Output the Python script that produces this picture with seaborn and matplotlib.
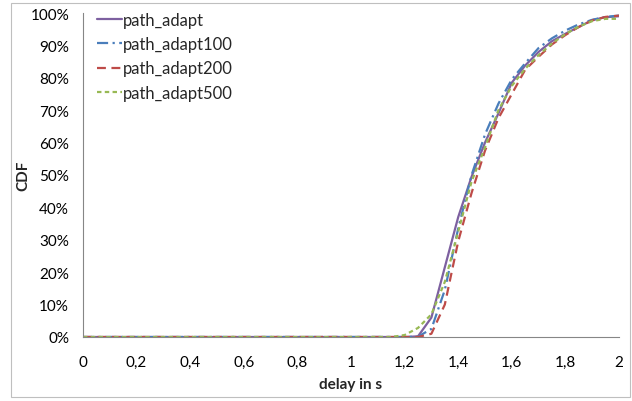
import pandas as pd
import matplotlib.pyplot as plt
import seaborn as sns
from matplotlib.patches import Rectangle
from matplotlib.ticker import FuncFormatter

# delay in s
delay = [0, 1.15, 1.2, 1.25, 1.3, 1.35, 1.4, 1.45, 1.5, 1.55, 1.6,
         1.65, 1.7, 1.75, 1.8, 1.85, 1.9, 1.95, 2.0]

# CDF values in %
path_adapt = [0, 0, 0, 0.2, 6, 21.5, 37, 49.5, 60, 69, 78.5,
              83.8, 88, 91.3, 93.6, 95.7, 97.8, 98.7, 99]
path_adapt100 = [0, 0, 0, 0.1, 2.5, 14.5, 33.5, 50, 62.5, 72, 79.5,
                 84.5, 89.2, 92.2, 94.6, 96.5, 97.9, 98.8, 99.2]
path_adapt200 = [0, 0, 0, 0, 1, 10, 29.5, 44.5, 57.5, 67.5, 75,
                 82.5, 86.5, 90.3, 93.2, 95.7, 97.7, 98.8, 99.2]
path_adapt500 = [0, 0, 0.6, 2.8, 7, 17, 32.5, 48, 58.5, 70, 77.5,
                 82.8, 87, 90.6, 93.5, 95.8, 97.5, 98.2, 98.2]

series = {
    "path_adapt": path_adapt,
    "path_adapt100": path_adapt100,
    "path_adapt200": path_adapt200,
    "path_adapt500": path_adapt500,
}

rows = []
for name, vals in series.items():
    for d, v in zip(delay, vals):
        rows.append({"delay": d, "cdf": v, "series": name})
df = pd.DataFrame(rows)

sns.set_style("white")
plt.rcParams["font.family"] = ["Lato", "DejaVu Sans"]

colors = {
    "path_adapt": "#7D60A0",
    "path_adapt100": "#4A7EBB",
    "path_adapt200": "#BE4B48",
    "path_adapt500": "#98B954",
}
dashes = {
    "path_adapt": "",
    "path_adapt100": (5, 2, 1, 2),
    "path_adapt200": (4, 2.5),
    "path_adapt500": (2, 1.5),
}

fig = plt.figure(figsize=(6.32, 4.02), dpi=100)
ax = fig.add_axes([83 / 632, 64 / 402, 536 / 632, 324 / 402])

sns.lineplot(data=df, x="delay", y="cdf", hue="series", style="series",
             palette=colors, dashes=dashes, linewidth=1.6, ax=ax)

ax.set_xlim(0, 2)
ax.set_ylim(0, 100)
ax.set_xticks([0, 0.2, 0.4, 0.6, 0.8, 1, 1.2, 1.4, 1.6, 1.8, 2])
ax.set_yticks(range(0, 101, 10))
ax.xaxis.set_major_formatter(FuncFormatter(lambda v, p: f"{v:g}".replace(".", ",")))
ax.yaxis.set_major_formatter(FuncFormatter(lambda v, p: f"{v:.0f}%"))
ax.tick_params(axis="both", direction="out", length=5, width=0.8,
               color="#868686", labelsize=11, labelcolor="black", pad=5)
ax.tick_params(axis="x", pad=8)

for side in ["top", "right"]:
    ax.spines[side].set_visible(False)
for side in ["left", "bottom"]:
    ax.spines[side].set_color("#868686")
    ax.spines[side].set_linewidth(0.8)

ax.set_xlabel("delay in s", fontsize=11, fontweight="bold")
ax.set_ylabel("CDF", fontsize=11, fontweight="bold")
ax.xaxis.set_label_coords(0.5, -0.125)
ax.yaxis.set_label_coords(-0.099, 0.5)

leg = ax.legend(loc="upper left", bbox_to_anchor=(0.005, 1.04), frameon=False,
                fontsize=12, handlelength=1.5, handletextpad=0.05,
                labelspacing=0.5, borderaxespad=0.3)
for line in leg.get_lines():
    line.set_linewidth(1.6)

fig.patches.append(Rectangle((11 / 632, 4 / 402), 619 / 632, 394 / 402,
                             transform=fig.transFigure, fill=False,
                             edgecolor="#BFBFBF", linewidth=0.8))

fig.savefig("out.png", dpi=100)
